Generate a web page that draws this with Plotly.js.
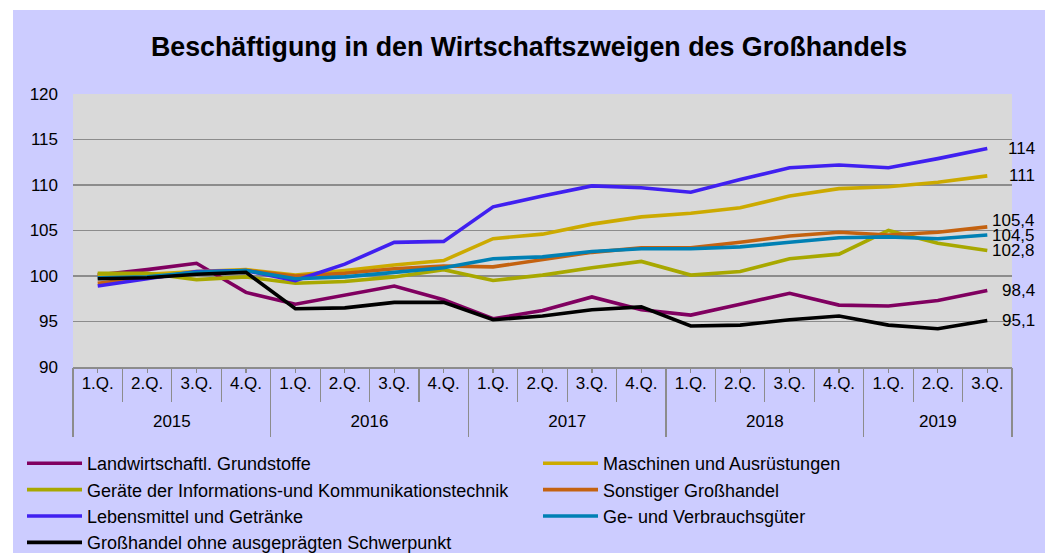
<!DOCTYPE html>
<html>
<head>
<meta charset="utf-8">
<script src="https://cdn.plot.ly/plotly-3.0.1.min.js"></script>
<style>
html, body { margin:0; padding:0; background:#ffffff; overflow:hidden; width:1051px; height:553px; }
#chart { position:absolute; left:13px; top:10px; width:1032px; height:600px; }
</style>
</head>
<body>
<div id="chart"></div>
<script>
const years = ['2015','2015','2015','2015','2016','2016','2016','2016','2017','2017','2017','2017','2018','2018','2018','2018','2019','2019','2019'];
const quarters = ['1.Q.','2.Q.','3.Q.','4.Q.','1.Q.','2.Q.','3.Q.','4.Q.','1.Q.','2.Q.','3.Q.','4.Q.','1.Q.','2.Q.','3.Q.','4.Q.','1.Q.','2.Q.','3.Q.'];

const landwirt     = [100.1, 100.7, 101.4, 98.2, 96.9, 97.9, 98.9, 97.4, 95.3, 96.2, 97.7, 96.3, 95.7, 96.9, 98.1, 96.8, 96.7, 97.3, 98.4];
const maschinen    = [100.2, 100.2, 100.5, 100.7, 100.1, 100.6, 101.2, 101.7, 104.1, 104.6, 105.7, 106.5, 106.9, 107.5, 108.8, 109.6, 109.8, 110.3, 111];
const geraete      = [100.3, 100.3, 99.6, 99.9, 99.2, 99.4, 99.9, 100.7, 99.5, 100.1, 100.9, 101.6, 100.1, 100.5, 101.9, 102.4, 105.0, 103.6, 102.8];
const sonstiger    = [99.2, 99.8, 100.3, 100.6, 100.0, 100.3, 100.8, 101.1, 101.0, 101.8, 102.6, 103.1, 103.1, 103.7, 104.4, 104.8, 104.5, 104.8, 105.4];
const lebensmittel = [98.9, 99.7, 100.5, 100.6, 99.5, 101.3, 103.7, 103.8, 107.6, 108.8, 109.9, 109.7, 109.2, 110.6, 111.9, 112.2, 111.9, 112.9, 114];
const verbrauch    = [99.8, 99.9, 100.4, 100.6, 99.7, 99.9, 100.4, 100.9, 101.9, 102.1, 102.7, 103.0, 103.0, 103.2, 103.7, 104.2, 104.3, 104.1, 104.5];
const ohne         = [99.7, 99.8, 100.2, 100.4, 96.4, 96.5, 97.1, 97.1, 95.2, 95.6, 96.3, 96.6, 94.5, 94.6, 95.2, 95.6, 94.6, 94.2, 95.1];

const seriesNames = ['Landwirtschaftl. Grundstoffe','Maschinen und Ausrüstungen','Geräte der Informations-und Kommunikationstechnik','Sonstiger Großhandel','Lebensmittel und Getränke','Ge- und Verbrauchsgüter','Großhandel ohne ausgeprägten Schwerpunkt'];
const seriesValues = [landwirt, maschinen, geraete, sonstiger, lebensmittel, verbrauch, ohne];
const seriesColors = ['#800060','#CCAA00','#A8A800','#C46210','#4020F0','#0080B4','#000000'];
const legendColumn = ['legend','legend2','legend','legend2','legend','legend2','legend'];
const labelShift = [0, 0, 0, 6, 0, 0, 0];

const FONT = '"Liberation Sans", Arial, sans-serif';
const n = quarters.length;
const keys = quarters.map((q, i) => years[i] + ' ' + q);
const idx = quarters.map((q, i) => i);

// derived axis helpers
const boundaries = [];
for (let i = 0; i <= n; i++) boundaries.push(i - 0.5);
const yearList = [...new Set(years)];
const yearCenters = yearList.map(y => { const ii = idx.filter(i => years[i] === y); return (ii[0] + ii[ii.length - 1]) / 2; });
const yearBounds = [-0.5];
yearList.forEach(y => { const ii = idx.filter(i => years[i] === y); yearBounds.push(ii[ii.length - 1] + 0.5); });

const traces = seriesNames.map((name, i) => ({
  type: 'scatter', mode: 'lines', name: name, legend: legendColumn[i],
  x: keys, y: seriesValues[i],
  line: { color: seriesColors[i], width: 3.6 },
  hoverinfo: 'skip'
}));
['x2','x3','x4','x5'].forEach(ax => traces.push({ type:'scatter', mode:'lines', x: idx, y: idx.map(() => null), xaxis: ax, yaxis:'y', showlegend:false, hoverinfo:'skip' }));

const fmt = v => Number.isInteger(v) ? String(v) : String(v).replace('.', ',');
const annotations = seriesValues.map((vals, i) => ({
  xref: 'paper', yref: 'y', x: 1, y: vals[vals.length - 1],
  xanchor: 'right', yanchor: 'middle', xshift: 25, yshift: labelShift[i],
  text: fmt(vals[vals.length - 1]), showarrow: false,
  font: { family: FONT, size: 17, color: '#000000' }
}));

const overlay = extra => Object.assign({ overlaying: 'x', anchor: 'y', side: 'bottom', range: [-0.5, n - 0.5], tickmode: 'array',
  showgrid: false, zeroline: false, showline: false, tickcolor: '#8C8C8C', tickwidth: 1.2, automargin: false }, extra);

const legendBase = { orientation: 'h', xref: 'container', yref: 'container', xanchor: 'left', yanchor: 'top',
  entrywidth: 440, entrywidthmode: 'pixels',
  itemwidth: 55, bgcolor: 'rgba(0,0,0,0)', font: { family: FONT, size: 18, color: '#000000' }, traceorder: 'normal' };

const layout = {
  width: 1032, height: 600,
  paper_bgcolor: '#CCCCFF', plot_bgcolor: '#D9D9D9',
  margin: { l: 60, r: 33, t: 84, b: 243 },
  title: { text: 'Beschäftigung in den Wirtschaftszweigen des Großhandels', x: 0.5, xref: 'container', y: 1 - 37/600, yref: 'container', yanchor: 'middle',
           font: { family: FONT, size: 26.8, weight: 'bold', color: '#000000' } },
  font: { family: FONT, size: 17, color: '#000000' },
  xaxis: { type: 'category', categoryorder: 'array', categoryarray: keys, tickmode: 'array', tickvals: keys, ticktext: quarters,
           showgrid: false, ticks: '', showline: true, linecolor: '#8C8C8C', linewidth: 1.5, automargin: false,
           tickfont: { family: FONT, size: 17, color: '#000000' }, range: [-0.5, n - 0.5] },
  xaxis2: overlay({ tickvals: boundaries, ticks: 'outside', ticklen: 34, showticklabels: false }),
  xaxis3: overlay({ tickvals: idx, ticks: 'outside', ticklen: 5, showticklabels: false }),
  xaxis4: overlay({ tickvals: yearBounds, ticks: 'outside', ticklen: 69, showticklabels: false }),
  xaxis5: overlay({ tickvals: yearCenters, ticktext: yearList, ticks: '', showticklabels: true, ticklabelstandoff: 42,
                    tickfont: { family: FONT, size: 17, color: '#000000' } }),
  yaxis: { range: [90, 120], dtick: 5, tick0: 90, showgrid: true, gridcolor: '#8C8C8C', gridwidth: 1.3, zeroline: false, ticks: '',
           ticklabelstandoff: 14, tickfont: { family: FONT, size: 17, color: '#000000' }, showline: false, automargin: false },
  showlegend: true,
  legend: Object.assign({}, legendBase, { x: 9/1032, y: 1 - 435/600 }),
  legend2: Object.assign({}, legendBase, { x: 525/1032, y: 1 - 435/600 }),
  annotations: annotations
};

Plotly.newPlot('chart', traces, layout, { displayModeBar: false, staticPlot: true });
</script>
</body>
</html>
